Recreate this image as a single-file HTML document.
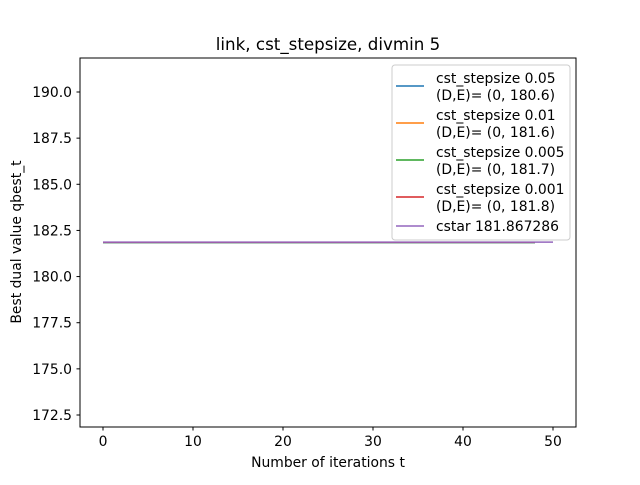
<!DOCTYPE html>
<html><head><meta charset="utf-8"><style>
body{margin:0;background:#fff;}
svg text{font-family:"DejaVu Sans","Liberation Sans",sans-serif;}
</style></head><body>
<svg id="chart" width="640" height="480" xmlns="http://www.w3.org/2000/svg">
<rect width="640" height="480" fill="#fff"/>
<text x="328" y="50" font-size="16.7" text-anchor="middle">link, cst_stepsize, divmin 5</text>
<g id="plot"></g>
<rect x="80" y="58" width="496" height="369" fill="none" stroke="#000" stroke-width="1"/>
<g id="ticks"></g>
<text x="328" y="467" font-size="13.9" text-anchor="middle">Number of iterations t</text>
<text transform="translate(21,242) rotate(-90)" font-size="13.9" text-anchor="middle">Best dual value qbest_t</text>
<g id="legend"></g>
</svg>
<script>
const xTicks=[0,10,20,30,40,50];
const yTicks=[172.5,175.0,177.5,180.0,182.5,185.0,187.5,190.0];
const seriesNames=["cst_stepsize 0.05","cst_stepsize 0.01","cst_stepsize 0.005","cst_stepsize 0.001","cstar 181.867286"];
const seriesSub=["(D,E)= (0, 180.6)","(D,E)= (0, 181.6)","(D,E)= (0, 181.7)","(D,E)= (0, 181.8)",""];
const seriesColors=["#1f77b4","#ff7f0e","#2ca02c","#d62728","#9467bd"];
const seriesValue=[181.84,181.85,181.85,181.86,181.867286];
const seriesEnd=[48,48,48,48,50];
const X=t=>103+(t-0)*9;
const Y=v=>92+(190-v)*18.457;
const NS="http://www.w3.org/2000/svg";
function mk(tag,attrs,parent){const e=document.createElementNS(NS,tag);for(const k in attrs)e.setAttribute(k,attrs[k]);parent.appendChild(e);return e;}
const plot=document.getElementById('plot'),ticks=document.getElementById('ticks'),legend=document.getElementById('legend');
seriesValue.forEach((v,i)=>{
 const pts=[];for(let t=0;t<=seriesEnd[i];t++)pts.push(X(t)+','+Y(v));
 const l=mk('polyline',{points:pts.join(' '),fill:'none',stroke:seriesColors[i],'stroke-width':1.5},plot);
 
 
});
xTicks.forEach(t=>{
 const l=mk('line',{x1:X(t),x2:X(t),y1:427,y2:430.5,stroke:'#000'},ticks);
 
 
 const tx=mk('text',{x:X(t),y:446,'font-size':13.9,'text-anchor':'middle'},ticks);tx.textContent=t;
 
 
});
yTicks.forEach(v=>{
 const l=mk('line',{x1:76.5,x2:80,y1:Y(v),y2:Y(v),stroke:'#000'},ticks);
 
 
 const tx=mk('text',{x:72,y:Y(v)+5,'font-size':13.9,'text-anchor':'end'},ticks);tx.textContent=v.toFixed(1);
 
 
});
const box=mk('rect',{x:392,y:65,width:178,height:175,rx:3,fill:'#fff','fill-opacity':0.8,stroke:'#ccc'},legend);


const ly=[86,123,160,197,226];
seriesNames.forEach((n,i)=>{
 const g=mk('g',{},legend);
 
 
 mk('line',{x1:396,x2:424,y1:ly[i],y2:ly[i],stroke:seriesColors[i],'stroke-width':1.5},g);
 if(seriesSub[i]){
  const a=mk('text',{x:436,y:ly[i]-3,'font-size':13.9},g);a.textContent=n;
  const b=mk('text',{x:436,y:ly[i]+14,'font-size':13.9},g);b.textContent=seriesSub[i];
 } else {const a=mk('text',{x:436,y:ly[i]+5,'font-size':13.9},g);a.textContent=n;}
});
</script>
</body></html>
